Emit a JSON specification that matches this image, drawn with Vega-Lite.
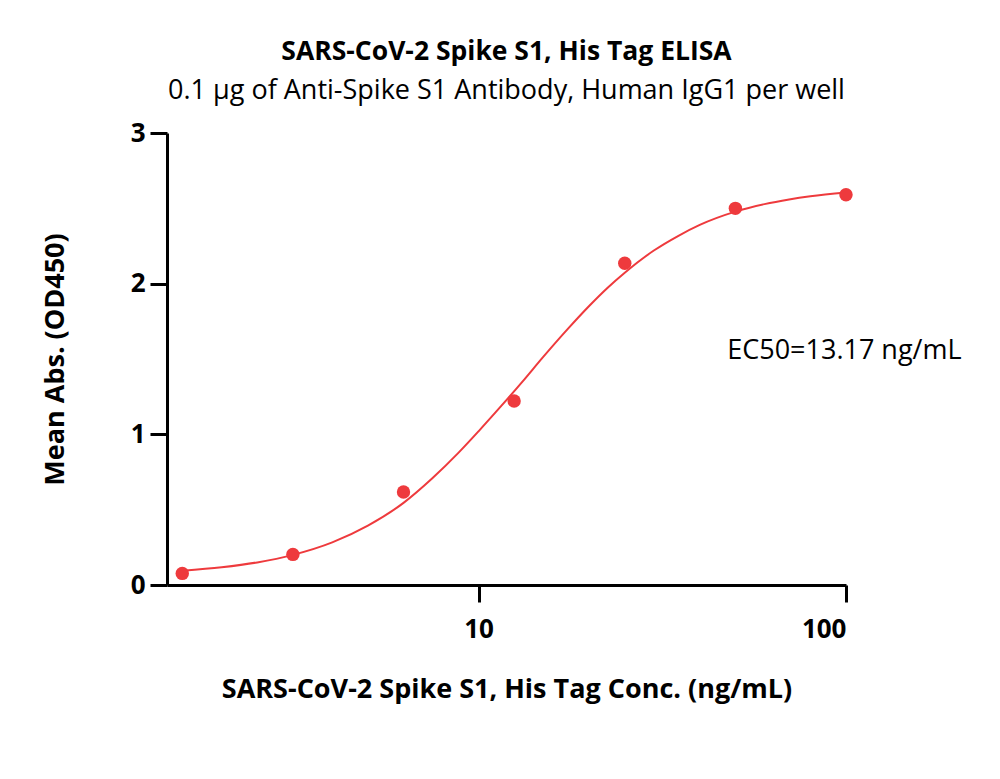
{
  "$schema": "https://vega.github.io/schema/vega-lite/v6.json",
  "width": 679,
  "height": 452,
  "autosize": {"type": "none"},
  "padding": {"left": 167, "top": 133, "right": 154, "bottom": 194},
  "background": "white",
  "config": {
    "view": {"stroke": null},
    "font": "Open Sans",
    "axis": {
      "grid": false,
      "domainColor": "black",
      "domainWidth": 3,
      "tickColor": "black",
      "tickWidth": 3,
      "tickSize": 17,
      "labelFont": "Open Sans",
      "labelFontWeight": "bold",
      "labelFontSize": 26,
      "labelColor": "black",
      "titleFont": "Open Sans",
      "titleFontWeight": "bold",
      "titleFontSize": 27,
      "titleColor": "black"
    }
  },
  "title": {
    "text": "SARS-CoV-2 Spike S1, His Tag ELISA",
    "subtitle": "0.1 µg of Anti-Spike S1 Antibody, Human IgG1 per well",
    "font": "Open Sans",
    "fontSize": 26.5,
    "fontWeight": "bold",
    "color": "black",
    "subtitleFont": "Open Sans",
    "subtitleFontSize": 27,
    "subtitleColor": "black",
    "subtitlePadding": 13,
    "anchor": "middle",
    "offset": 16
  },
  "datasets": {
    "curve": [
      {"conc": 1.5625, "od": 0.095},
      {"conc": 2.0, "od": 0.118},
      {"conc": 2.5, "od": 0.15},
      {"conc": 3.125, "od": 0.2},
      {"conc": 4.0, "od": 0.283},
      {"conc": 5.0, "od": 0.394},
      {"conc": 6.25, "od": 0.545},
      {"conc": 7.5, "od": 0.71},
      {"conc": 8.8, "od": 0.875},
      {"conc": 10.0, "od": 1.02},
      {"conc": 11.5, "od": 1.185},
      {"conc": 13.17, "od": 1.35},
      {"conc": 15.0, "od": 1.514},
      {"conc": 17.5, "od": 1.7},
      {"conc": 20.0, "od": 1.852},
      {"conc": 22.5, "od": 1.975},
      {"conc": 25.0, "od": 2.073},
      {"conc": 30.0, "od": 2.22},
      {"conc": 35.0, "od": 2.318},
      {"conc": 40.0, "od": 2.39},
      {"conc": 50.0, "od": 2.478},
      {"conc": 60.0, "od": 2.528},
      {"conc": 70.0, "od": 2.559},
      {"conc": 80.0, "od": 2.58},
      {"conc": 100.0, "od": 2.605}
    ],
    "points": [
      {"conc": 1.5625, "od": 0.077},
      {"conc": 3.125, "od": 0.203},
      {"conc": 6.25, "od": 0.617},
      {"conc": 12.5, "od": 1.221},
      {"conc": 25.0, "od": 2.136},
      {"conc": 50.0, "od": 2.5},
      {"conc": 100.0, "od": 2.59}
    ],
    "note": [
      {"conc": 47.5, "od": 1.551, "label": "EC50=13.17 ng/mL"}
    ]
  },
  "layer": [
    {
      "data": {"name": "curve"},
      "mark": {"type": "line", "interpolate": "monotone", "color": "#EE3A3D", "strokeWidth": 2, "clip": false},
      "encoding": {
        "x": {
          "field": "conc",
          "type": "quantitative",
          "scale": {"type": "log", "domain": [1.42, 100], "nice": false},
          "axis": {
            "values": [10, 100],
            "format": "d",
            "labelPadding": 14,
            "title": "SARS-CoV-2 Spike S1, His Tag Conc. (ng/mL)",
            "titlePadding": 34
          }
        },
        "y": {
          "field": "od",
          "type": "quantitative",
          "scale": {"domain": [0, 3], "nice": false, "zero": true},
          "axis": {
            "values": [0, 1, 2, 3],
            "format": "d",
            "labelPadding": 5,
            "title": "Mean Abs. (OD450)",
            "titlePadding": 61
          }
        }
      }
    },
    {
      "data": {"name": "points"},
      "mark": {"type": "point", "filled": true, "size": 180, "color": "#EE3A3D", "opacity": 1, "clip": false},
      "encoding": {
        "x": {"field": "conc", "type": "quantitative"},
        "y": {"field": "od", "type": "quantitative"}
      }
    },
    {
      "data": {"name": "note"},
      "mark": {"type": "text", "align": "left", "baseline": "middle", "font": "Open Sans", "fontSize": 27, "color": "black"},
      "encoding": {
        "x": {"field": "conc", "type": "quantitative"},
        "y": {"field": "od", "type": "quantitative"},
        "text": {"field": "label"}
      }
    }
  ]
}
